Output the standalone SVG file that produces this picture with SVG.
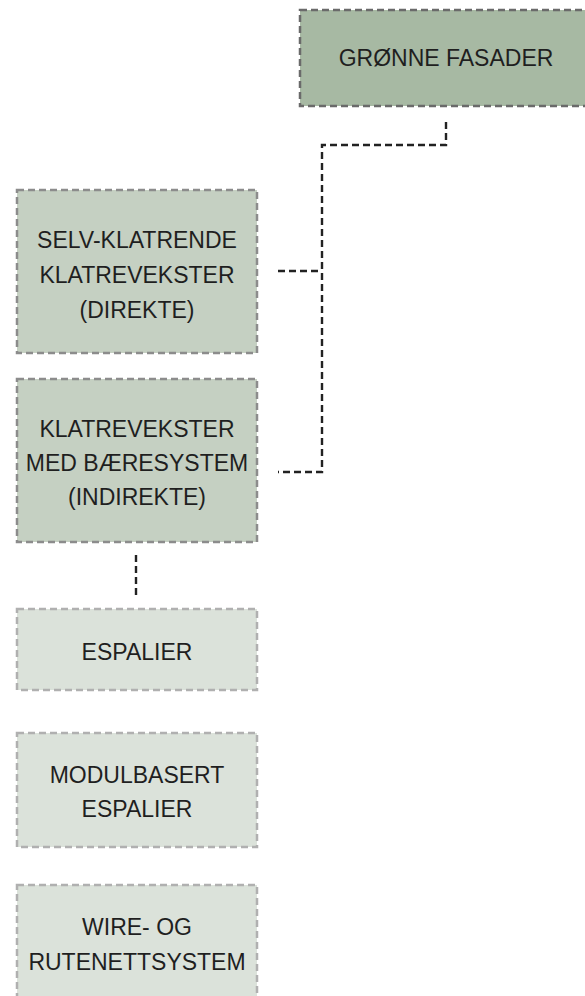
<svg xmlns="http://www.w3.org/2000/svg" width="585" height="996" viewBox="0 0 585 996">
  <style>
    .box { stroke-width: 2.5; stroke-dasharray: 7 4; }
    .lvl0 { fill: #a7b9a3; stroke: #6a6a6a; }
    .lvl1 { fill: #c5d0c2; stroke: #8c8c8c; }
    .lvl2 { fill: #dbe2da; stroke: #b0b0b0; }
    .lbl { font-family: "Liberation Sans", "Lato", sans-serif; font-size: 23px; fill: #1f1f1f; text-anchor: middle; }
    .conn { fill: none; stroke: #222; stroke-width: 2.4; stroke-dasharray: 7 4; }
  </style>

  <g id="node-gronne-fasader">
    <rect class="box lvl0" x="300" y="10" width="295" height="96"/>
    <text class="lbl" x="446" y="66">GRØNNE FASADER</text>
  </g>

  <g id="node-selv-klatrende">
    <rect class="box lvl1" x="17" y="190" width="240" height="163"/>
    <text class="lbl" x="137" y="248">SELV-KLATRENDE</text>
    <text class="lbl" x="137" y="283">KLATREVEKSTER</text>
    <text class="lbl" x="137" y="318">(DIREKTE)</text>
  </g>

  <g id="node-baeresystem">
    <rect class="box lvl1" x="17" y="379" width="240" height="163"/>
    <text class="lbl" x="137" y="437">KLATREVEKSTER</text>
    <text class="lbl" x="137" y="471">MED BÆRESYSTEM</text>
    <text class="lbl" x="137" y="505">(INDIREKTE)</text>
  </g>

  <g id="node-espalier">
    <rect class="box lvl2" x="17" y="609" width="240" height="81"/>
    <text class="lbl" x="137" y="660">ESPALIER</text>
  </g>

  <g id="node-modulbasert">
    <rect class="box lvl2" x="17" y="733" width="240" height="114"/>
    <text class="lbl" x="137" y="783">MODULBASERT</text>
    <text class="lbl" x="137" y="817">ESPALIER</text>
  </g>

  <g id="node-wire">
    <rect class="box lvl2" x="17" y="885" width="240" height="120"/>
    <text class="lbl" x="137" y="935">WIRE- OG</text>
    <text class="lbl" x="137" y="970">RUTENETTSYSTEM</text>
  </g>

  <g id="connectors">
    <path class="conn" d="M446 122 V145 H322 V472 H278"/>
    <path class="conn" d="M278 271 H322"/>
    <path class="conn" d="M136 555 V597"/>
  </g>
</svg>
